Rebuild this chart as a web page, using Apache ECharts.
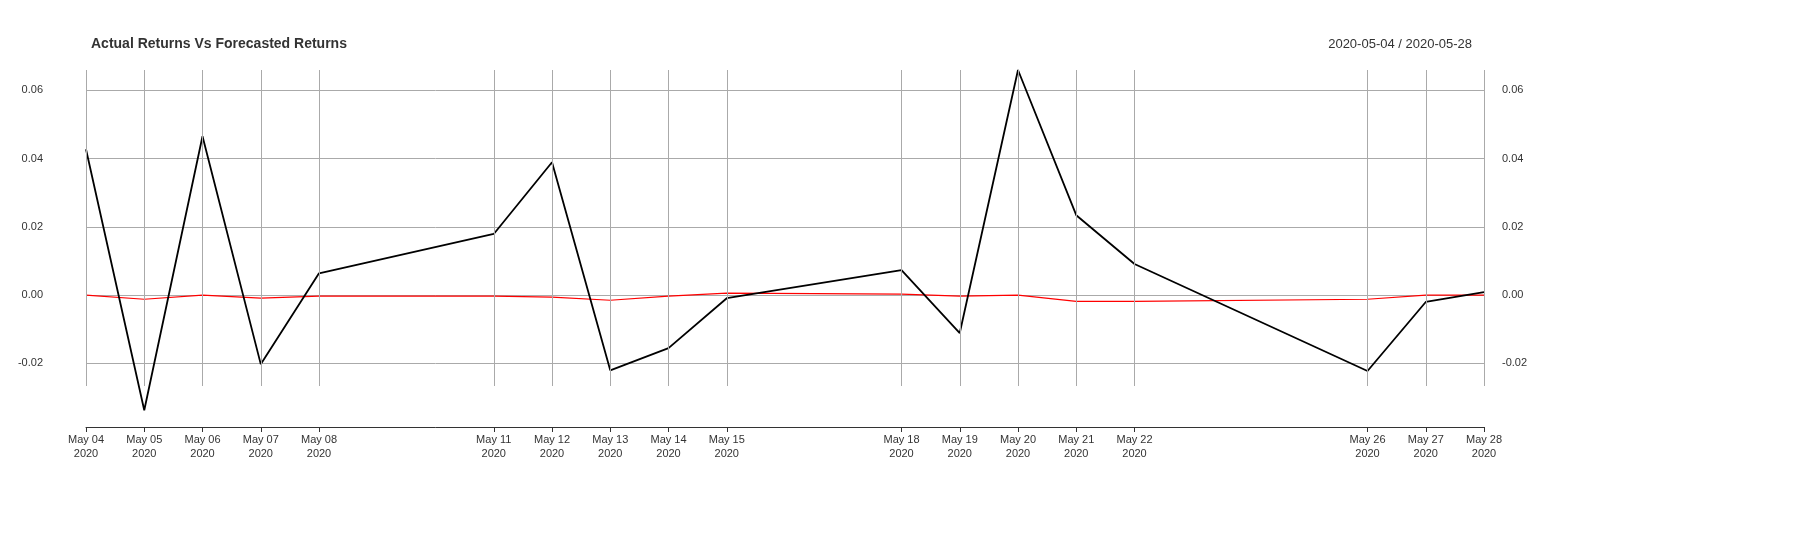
<!DOCTYPE html>
<html><head><meta charset="utf-8">
<script src="https://cdn.jsdelivr.net/npm/echarts@6/dist/echarts.min.js"></script>
<style>html,body{margin:0;background:#fff}#c{width:1820px;height:544px}</style>
</head><body><div id="c"></div>
<script>
const days = ["May 04","May 05","May 06","May 07","May 08","May 09","May 10","May 11","May 12","May 13","May 14","May 15","May 16","May 17","May 18","May 19","May 20","May 21","May 22","May 23","May 24","May 25","May 26","May 27","May 28"];
const tradingDays = ["May 04","May 05","May 06","May 07","May 08","May 11","May 12","May 13","May 14","May 15","May 18","May 19","May 20","May 21","May 22","May 26","May 27","May 28"];
const actual = [0.0427,-0.0337,0.0465,-0.0202,0.0064,0.0179,0.0389,-0.0220,-0.0155,-0.0009,0.0073,-0.0111,0.0659,0.0234,0.0091,-0.0222,-0.0020,0.0009];
const forecast = [0.0000,-0.0012,0.0000,-0.0009,-0.0003,-0.0003,-0.0006,-0.0015,-0.0003,0.0006,0.0003,-0.0003,0.0000,-0.0018,-0.0018,-0.0012,0.0000,0.0000];
const yTicks = [-0.02,0,0.02,0.04,0.06];
const gridTop = 0.0659, gridBottom = -0.0266;

const toSeries = arr => days.map(d => { const i = tradingDays.indexOf(d); return i < 0 ? null : arr[i]; });
const isTrade = i => tradingDays.includes(days[i]);
const fmt = v => v.toFixed(2);
const yAx = pos => ({
  type:'value', position:pos, min:-0.0386, max:0.0659,
  axisLine:{show:false}, axisTick:{show:false, customValues:yTicks},
  axisLabel:{customValues:yTicks, formatter:fmt, color:'#333', fontSize:11, fontFamily:'Liberation Sans', margin: pos==='left'?43:18},
  splitLine:{show:pos==='left', lineStyle:{color:'#aaa', width:1}}
});
const chart = echarts.init(document.getElementById('c'));
chart.setOption({
  animation:false,
  title:[{text:'Actual Returns Vs Forecasted Returns', left:86, top:32, textStyle:{fontSize:14, fontWeight:'bold', color:'#333', fontFamily:'Liberation Sans'}},
         {text:'2020-05-04 / 2020-05-28', right:343, top:33, textStyle:{fontSize:13, fontWeight:'normal', color:'#333', fontFamily:'Liberation Sans'}}],
  grid:{left:86, right:336, top:70, bottom:117},
  xAxis:{type:'category', data:days, boundaryGap:false,
    axisLine:{onZero:false, lineStyle:{color:'#333'}},
    axisTick:{interval:i=>isTrade(i), length:5, lineStyle:{color:'#333'}},
    axisLabel:{interval:i=>isTrade(i), formatter:v=>v+'\n2020', color:'#333', fontSize:11, fontFamily:'Liberation Sans', margin:6, lineHeight:14},
    splitLine:{show:false}},
  yAxis:[yAx('left'), yAx('right')],
  series:[
    {type:'line', data:toSeries(forecast), connectNulls:true, symbol:'none', lineStyle:{color:'#ff0000', width:1.2}, z:3,
     markLine:{silent:true, symbol:'none', label:{show:false}, lineStyle:{color:'#aaa', width:1, type:'solid'},
       data: tradingDays.map(d => [{coord:[d, gridTop]}, {coord:[d, gridBottom]}])}},
    {type:'line', data:toSeries(actual), connectNulls:true, symbol:'none', lineStyle:{color:'#000', width:1.8}, z:4}
  ]
});
</script></body></html>
